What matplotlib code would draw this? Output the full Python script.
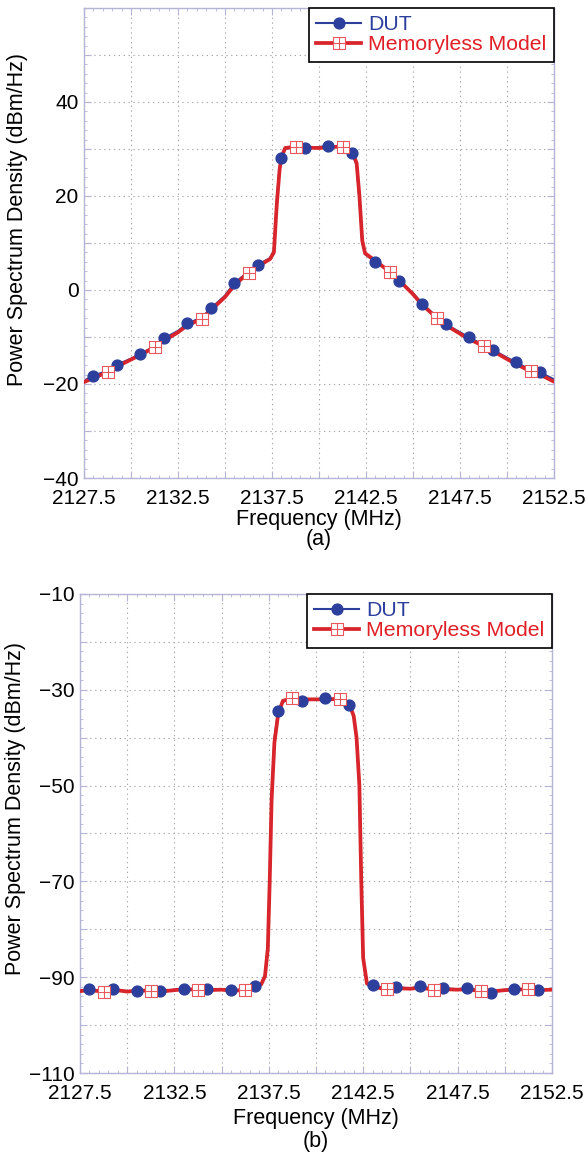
import numpy as np
import matplotlib
matplotlib.use('Agg')
import matplotlib.pyplot as plt
from matplotlib.path import Path
from matplotlib.lines import Line2D

plt.rcParams['font.family'] = ['Liberation Sans', 'DejaVu Sans']

# ---- data ----
# (a) spectrum, frequency grid shared by both curves
freq_a = [2127.5, 2128.0, 2128.75, 2129.25, 2130.0, 2130.5, 2131.25, 2131.75,
          2132.5, 2133.0, 2133.75, 2134.25, 2135.0, 2135.5, 2136.25, 2136.75,
          2137.4, 2137.6, 2137.75, 2137.9, 2138.0, 2138.2, 2138.75, 2139.25,
          2140.0, 2140.5, 2141.25, 2141.75, 2142.0, 2142.15, 2142.3, 2142.45,
          2143.0, 2143.75, 2144.25, 2145.0, 2145.5, 2146.25, 2146.75, 2147.5,
          2148.0, 2148.75, 2149.25, 2150.0, 2150.5, 2151.25, 2151.75, 2152.5]
dut_a = [-19.3, -18.2, -17.2, -15.9, -14.6, -13.6, -12.0, -10.3,
         -8.7, -7.1, -5.9, -3.9, -1.2, 1.5, 3.9, 5.4,
         6.8, 8.5, 19.0, 26.0, 28.0, 30.0, 30.4, 30.1,
         30.4, 30.7, 30.4, 29.2, 26.5, 19.0, 10.0, 7.6,
         6.0, 4.1, 1.9, -0.7, -2.9, -5.7, -7.3, -9.0,
         -10.1, -11.7, -12.7, -14.4, -15.4, -17.0, -17.5, -19.0]
model_a = [-19.6, -18.7, -17.5, -16.3, -14.8, -13.8, -12.2, -10.8,
           -9.0, -7.5, -6.2, -4.3, -1.5, 1.0, 3.7, 5.0,
           6.6, 8.0, 18.0, 25.5, 28.3, 30.2, 30.5, 30.3,
           30.2, 30.4, 30.5, 29.6, 27.0, 20.0, 10.5, 7.8,
           6.2, 3.9, 2.1, -0.9, -3.2, -5.9, -7.5, -9.3,
           -10.5, -11.9, -13.0, -14.7, -15.8, -17.3, -18.0, -19.5]

# (b) spectrum
freq_b = [2127.5, 2128.0, 2128.75, 2129.25, 2130.0, 2130.5, 2131.25, 2131.75,
          2132.5, 2133.0, 2133.75, 2134.25, 2135.0, 2135.5, 2136.25, 2136.75,
          2137.1, 2137.3, 2137.45, 2137.55, 2137.65, 2137.8, 2138.0, 2138.25,
          2138.75, 2139.25, 2140.0, 2140.5, 2141.25, 2141.75, 2142.0, 2142.15,
          2142.3, 2142.4, 2142.5, 2142.7, 2143.0, 2143.75, 2144.25, 2145.0,
          2145.5, 2146.25, 2146.75, 2147.5, 2148.0, 2148.75, 2149.25, 2150.0,
          2150.5, 2151.25, 2151.75, 2152.5]
dut_b = [-92.8, -92.5, -92.9, -92.5, -92.9, -92.8, -92.9, -92.9,
         -92.6, -92.5, -92.6, -92.5, -92.5, -92.7, -92.6, -91.9,
         -91.3, -89.5, -84.0, -70.0, -52.0, -40.0, -34.5, -32.5,
         -31.9, -32.3, -32.0, -31.8, -32.0, -33.2, -35.5, -40.0,
         -50.0, -70.0, -86.0, -91.1, -91.6, -92.4, -92.0, -92.4,
         -91.8, -92.5, -92.3, -92.5, -92.3, -92.8, -93.2, -92.6,
         -92.5, -92.4, -92.7, -92.6]
model_b = [-92.9, -92.7, -93.0, -92.6, -93.0, -92.8, -92.8, -93.0,
           -92.7, -92.5, -92.6, -92.7, -92.6, -92.8, -92.7, -92.2,
           -91.5, -89.8, -84.0, -70.0, -53.0, -41.0, -35.0, -32.3,
           -31.8, -32.0, -32.0, -32.0, -31.9, -32.8, -35.5, -40.0,
           -50.0, -70.0, -86.0, -91.3, -92.0, -92.5, -92.3, -92.4,
           -92.2, -92.6, -92.5, -92.6, -92.5, -92.9, -93.0, -92.7,
           -92.6, -92.5, -92.7, -92.6]

# marker positions
dut_marks = [2128.0, 2129.25, 2130.5, 2131.75, 2133.0, 2134.25, 2135.5, 2136.75,
             2138.0, 2139.25, 2140.5, 2141.75, 2143.0, 2144.25, 2145.5, 2146.75,
             2148.0, 2149.25, 2150.5, 2151.75]
model_marks = [2128.75, 2131.25, 2133.75, 2136.25, 2138.75, 2141.25, 2143.75,
               2146.25, 2148.75, 2151.25]

x_ticks = [2127.5, 2130.0, 2132.5, 2135.0, 2137.5, 2140.0, 2142.5, 2145.0,
           2147.5, 2150.0, 2152.5]
x_labels = ['2127.5', '', '2132.5', '', '2137.5', '', '2142.5', '',
            '2147.5', '', '2152.5']
y_ticks_a = [-40, -30, -20, -10, 0, 10, 20, 30, 40, 50, 60]
y_labels_a = ['\u221240', '', '\u221220', '', '0', '', '20', '', '40', '', '']
y_ticks_b = [-110, -100, -90, -80, -70, -60, -50, -40, -30, -20, -10]
y_labels_b = ['\u2212110', '', '\u221290', '', '\u221270', '', '\u221250', '',
              '\u221230', '', '\u221210']

BLUE = '#2c3f9c'
RED = '#d8242b'
SQ = '#e8585c'
SPINE = '#b4b4d6'

# square with a cross inside
sq_path = Path([(-1, -1), (1, -1), (1, 1), (-1, 1), (-1, -1),
                (0, -1), (0, 1), (-1, 0), (1, 0)],
               [Path.MOVETO, Path.LINETO, Path.LINETO, Path.LINETO, Path.CLOSEPOLY,
                Path.MOVETO, Path.LINETO, Path.MOVETO, Path.LINETO])

fig = plt.figure(figsize=(5.88, 11.69), dpi=100)
ax_a = fig.add_axes([0.1429, 0.5911, 0.7993, 0.4021])
ax_b = fig.add_axes([0.1360, 0.0821, 0.8027, 0.4098])


def draw(ax, freq, dut, model, yt, yl, ylim, lab_xy, cap, cap_y):
    freq = np.array(freq)
    dut = np.array(dut)
    model = np.array(model)
    di = np.isin(freq, dut_marks)
    mi = np.isin(freq, model_marks)
    ax.plot(freq, dut, color=BLUE, lw=1.5, zorder=2)
    ax.plot(freq, model, color=RED, lw=2.7, zorder=3)
    ax.plot(freq[di], dut[di], 'o', color=BLUE, ms=7.8, zorder=4)
    ax.plot(freq[mi], model[mi], ls='none', marker=sq_path, ms=8.5,
            mfc='white', mec=SQ, mew=0.8, zorder=5)

    ax.set_xlim(2127.5, 2152.5)
    ax.set_ylim(*ylim)
    ax.set_xticks(x_ticks, x_labels)
    ax.set_yticks(yt, yl)
    ax.set_xticks(np.arange(2127.5, 2152.51, 0.5), minor=True)
    ax.set_yticks(np.arange(ylim[0], ylim[1] + 0.1, 2), minor=True)
    ax.tick_params(which='both', direction='in', top=True, right=True,
                   color=SPINE, labelsize=15)
    ax.tick_params(which='major', length=5, width=0.8)
    ax.tick_params(which='minor', length=2.5, width=0.6)
    ax.tick_params(axis='x', pad=8)
    ax.tick_params(axis='y', pad=4)
    for s in ax.spines.values():
        s.set_color(SPINE)
        s.set_linewidth(1.0)
    ax.grid(True, which='major', color='#a8a8a8', lw=0.8, ls=(0, (1.2, 3.2)))
    ax.set_axisbelow(True)
    ax.set_xlabel('Frequency (MHz)', fontsize=15.5)
    ax.set_ylabel('Power Spectrum Density (dBm/Hz)', fontsize=15.5)
    ax.xaxis.set_label_coords(0.5, lab_xy[0])
    ax.yaxis.set_label_coords(lab_xy[1], lab_xy[2])

    h1 = Line2D([], [], color=BLUE, lw=1.5, marker='o', ms=7.8)
    h2 = Line2D([], [], color=RED, lw=2.7, marker=sq_path, ms=8.5,
                mfc='white', mec=SQ, mew=0.8)
    leg = ax.legend([h1, h2], ['DUT', 'Memoryless Model'], loc='upper right',
                    fontsize=15.3, frameon=True, fancybox=False, framealpha=1,
                    edgecolor='black', borderaxespad=0, borderpad=0.35,
                    labelspacing=0.05, handlelength=2.1, handletextpad=0.35,
                    numpoints=1)
    leg.get_frame().set_linewidth(1.2)
    for t, c in zip(leg.get_texts(), [BLUE, '#e01f26']):
        t.set_color(c)
    pos = ax.get_position()
    fig.text((pos.x0 + pos.x1) / 2, cap_y, cap, ha='center', va='center',
             fontsize=15.5)


draw(ax_a, freq_a, dut_a, model_a, y_ticks_a, y_labels_a, (-40, 60),
     (-0.066, -0.119, 0.549), '(a)', 1 - 539 / 1169)
draw(ax_b, freq_b, dut_b, model_b, y_ticks_b, y_labels_b, (-110, -10),
     (-0.073, -0.114, 0.553), '(b)', 1 - 1142 / 1169)

fig.savefig('out.png', dpi=100)
